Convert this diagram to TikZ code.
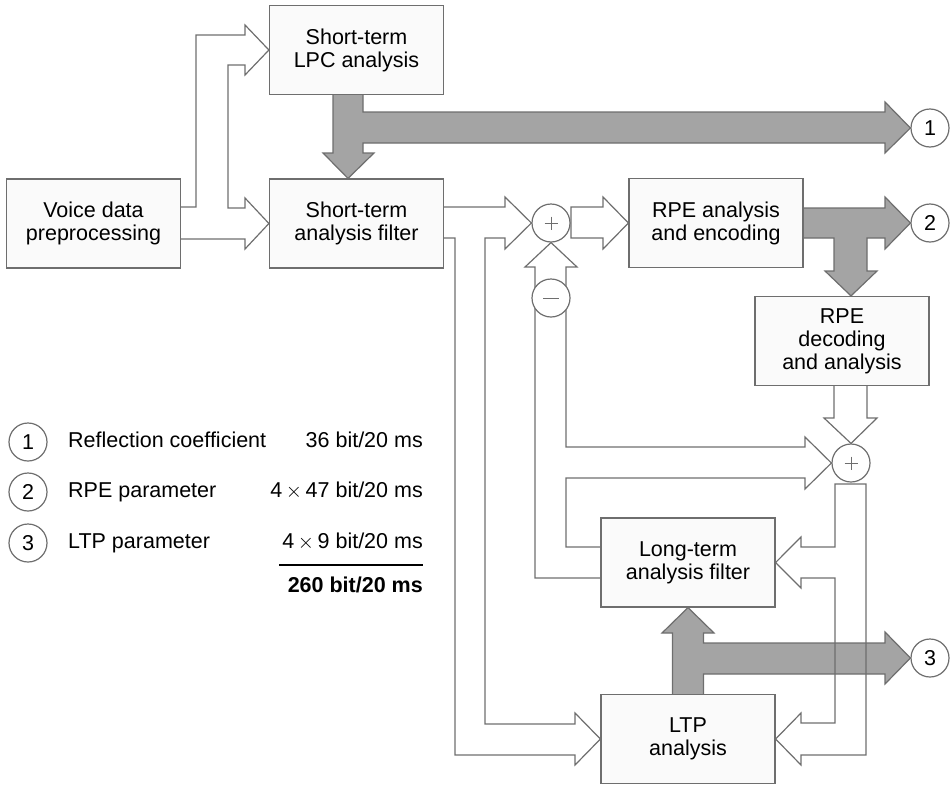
\documentclass[tikz,border=0pt]{standalone}
\usepackage{fontspec}
\setmainfont{Liberation Sans}
\usetikzlibrary{calc}
\pgfdeclarelayer{graylayer}
\pgfdeclarelayer{arrowlayer}
\pgfsetlayers{graylayer,arrowlayer,main}
\definecolor{edgec}{HTML}{6E6E6E}
\definecolor{grayfill}{HTML}{A4A4A4}
\definecolor{boxfill}{HTML}{FAFAFA}
\newcommand{\tms}{\,$\times$\,}
\begin{document}
\begin{tikzpicture}[x=1pt,y=-1pt,
  font=\fontsize{21.5}{23}\selectfont,
  blk/.style={draw=edgec, fill=boxfill, line width=1.2pt, minimum width=174pt, minimum height=89pt, align=center, inner sep=0pt},
  circ/.style={circle, draw=edgec, fill=white, line width=1.2pt, minimum size=38pt, inner sep=0pt},
  garrow/.style={draw=edgec, fill=grayfill, line width=1.2pt, line join=miter},
  warrow/.style={draw=edgec, line width=1.2pt, line join=miter},
  sign/.style={draw=edgec, line width=1pt},
  lbl/.style={inner sep=0pt}]
\useasboundingbox (0,0) rectangle (952,787);

% boxes
\node[blk] (voice) at (93.5,223.5) {Voice data\\preprocessing};
\node[blk] (lpc) at (356.5,50) {Short-term\\LPC analysis};
\node[blk] (stf) at (356.5,223.5) {Short-term\\analysis filter};
\node[blk] (rpe) at (716,223) {RPE analysis\\and encoding};
\node[blk] (rped) at (842,341) {RPE\\decoding\\and analysis};
\node[blk] (ltf) at (688,562.5) {Long-term\\analysis filter};
\node[blk] (ltp) at (688,739) {LTP\\analysis};

% circles
\node[circ] (sum1) at (551,223) {};
\node[circ] (minus) at (551,298) {};
\node[circ] (sum2) at (851,463) {};
\node[circ] (o1) at (930,128) {1};
\node[circ] (o2) at (930,223) {2};
\node[circ] (o3) at (930,658) {3};
\draw[sign] ($(sum1.center)+(-6.5,0)$) -- ($(sum1.center)+(6.5,0)$);
\draw[sign] ($(sum1.center)+(0,-6.5)$) -- ($(sum1.center)+(0,6.5)$);
\draw[sign] ($(minus.center)+(-8,0)$) -- ($(minus.center)+(8,0)$);
\draw[sign] ($(sum2.center)+(-6.5,0)$) -- ($(sum2.center)+(6.5,0)$);
\draw[sign] ($(sum2.center)+(0,-6.5)$) -- ($(sum2.center)+(0,6.5)$);

% gray (parameter) arrows
\begin{pgfonlayer}{graylayer}
\draw[garrow] (333,94) -- (333,153) -- (323,153) -- ($(stf.north)+(-8.5,0)$) -- (374,153) -- (363,153)
  -- (363,143) -- (885,143) -- (885,153) -- (o1.west) -- (885,102) -- (885,112) -- (363,112) -- (363,94) -- cycle;
\draw[garrow] (803,208) -- (885,208) -- (885,197) -- (o2.west) -- (885,249) -- (885,238) -- (867,238)
  -- (867,271) -- (877,271) -- ($(rped.north)+(9,0)$) -- (825,271) -- (834,271) -- (834,238) -- (803,238) -- cycle;
\draw[garrow] (672.5,695) -- (672.5,633) -- (662,633) -- (ltf.south) -- (714,633) -- (703.5,633)
  -- (703.5,643) -- (885,643) -- (885,632) -- (o3.west) -- (885,684) -- (885,674) -- (703.5,674) -- (703.5,695) -- cycle;
\end{pgfonlayer}

% white (signal) arrows
\begin{pgfonlayer}{arrowlayer}
\draw[warrow] ($(voice.east)+(0,-16.5)$) -- (196,207) -- (196,35) -- (245,35) -- (245,25) -- (lpc.west)
  -- (245,75) -- (245,65) -- (228,65) -- (228,208) -- (245,208) -- (245,198) -- (stf.west)
  -- (245,249) -- (245,239) -- ($(voice.east)+(0,15.5)$);
\draw[warrow] ($(stf.east)+(0,-16.5)$) -- (505,207) -- (505,197) -- (sum1.west) -- (505,249) -- (505,238)
  -- (485,238) -- (485,724) -- (575,724) -- (575,713) -- (ltp.west) -- (575,765) -- (575,755)
  -- (455,755) -- (455,238) -- ($(stf.east)+(0,14.5)$);
\draw[warrow] (571,207) -- (603,207) -- (603,197) -- (rpe.west) -- (603,249) -- (603,238) -- (571,238) -- cycle;
\draw[warrow] ($(ltf.west)+(0,-15.5)$) -- (566,547) -- (566,478) -- (805,478) -- (805,489) -- (sum2.west)
  -- (805,437) -- (805,447) -- (566,447) -- (566,267) -- (577,267) -- (sum1.south) -- (525,267)
  -- (535,267) -- (535,578) -- ($(ltf.west)+(0,15.5)$);
\draw[warrow] (835,484) -- (835,547) -- (801,547) -- (801,537) -- (ltf.east) -- (801,588) -- (801,578)
  -- (835,578) -- (835,723) -- (801,723) -- (801,713) -- (ltp.east) -- (801,765) -- (801,755)
  -- (866,755) -- (866,484) -- cycle;
\draw[warrow] (834,385) -- (834,418) -- (824,418) -- (sum2.north) -- (877,418) -- (867,418) -- (867,385);
\end{pgfonlayer}

% legend
\node[circ] (l1) at (28,442) {1};
\node[circ] (l2) at (28,492) {2};
\node[circ] (l3) at (28,543) {3};
\node[lbl, anchor=base west] (n1) at (68,447) {Reflection coefficient};
\node[lbl, anchor=base west] (n2) at (68,497) {RPE parameter};
\node[lbl, anchor=base west] (n3) at (68,548) {LTP parameter};
\node[lbl, anchor=base east] (v1) at (423,447) {36 bit/20 ms};
\node[lbl, anchor=base east] (v2) at (423,497) {4\tms 47 bit/20 ms};
\node[lbl, anchor=base east] (v3) at (423,548) {4\tms 9 bit/20 ms};
\coordinate (ruleA) at (279,565);
\coordinate (ruleB) at (423,565);
\draw[line width=2pt] (ruleA) -- (ruleB);
\node[lbl, anchor=base east, font=\fontsize{21.5}{23}\selectfont\bfseries] (tot) at (423,592) {260 bit/20 ms};
\end{tikzpicture}
\end{document}
